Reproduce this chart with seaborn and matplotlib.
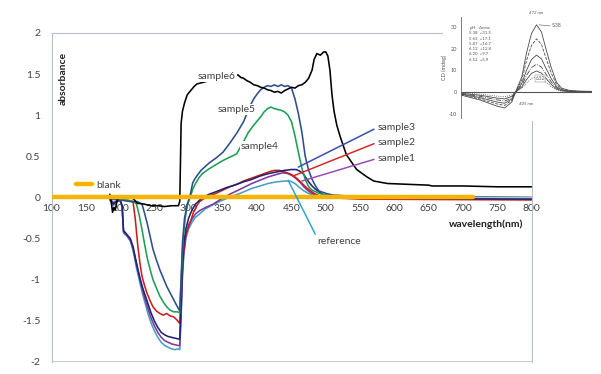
import numpy as np
import pandas as pd
import matplotlib
matplotlib.use("Agg")
import matplotlib.pyplot as plt
from matplotlib.patches import Rectangle
import seaborn as sns

# ---------------- data ----------------
wl_s6 = [185, 187, 189, 191, 193, 196, 200, 215, 220, 225, 235, 245, 255, 265, 275, 285, 287, 288, 289,
         291, 294, 298, 303, 308, 312, 330, 350, 372, 376, 380, 385, 390, 395, 400, 405, 410, 415, 420,
         425, 430, 435, 440, 445, 450, 455, 460, 465, 470, 475, 480, 483, 487, 492, 497, 500, 503, 506,
         509, 512, 516, 521, 530, 545, 560, 570, 590, 620, 650, 655, 700, 750, 800]
ab_s6 = [0.04, -0.05, -0.18, -0.12, -0.15, -0.02, 0.0, 0.0, -0.02, -0.07, -0.08, -0.10, -0.10, -0.11,
         -0.10, -0.10, -0.05, 0.40, 0.90, 1.05, 1.15, 1.25, 1.30, 1.35, 1.38, 1.42, 1.46, 1.49, 1.46,
         1.45, 1.42, 1.40, 1.37, 1.36, 1.34, 1.33, 1.31, 1.30, 1.28, 1.29, 1.27, 1.30, 1.32, 1.34, 1.33,
         1.36, 1.37, 1.40, 1.45, 1.55, 1.68, 1.75, 1.73, 1.77, 1.77, 1.72, 1.55, 1.25, 1.05, 0.88, 0.74,
         0.52, 0.34, 0.25, 0.20, 0.17, 0.16, 0.15, 0.14, 0.14, 0.13, 0.13]

wl_s5 = [185, 200, 215, 225, 232, 236, 240, 244, 248, 253, 258, 263, 268, 273, 278, 283, 287, 289, 291,
         294, 298, 302, 306, 310, 318, 330, 340, 350, 360, 370, 380, 390, 395, 400, 405, 410, 415, 420,
         425, 430, 435, 440, 445, 450, 455, 460, 465, 470, 475, 480, 485, 490, 500, 510, 530, 600, 800]
ab_s5 = [-0.02, -0.03, -0.05, -0.05, -0.08, -0.20, -0.33, -0.48, -0.63, -0.76, -0.88, -0.98, -1.08,
         -1.16, -1.24, -1.32, -1.38, -1.00, -0.55, -0.25, -0.08, 0.02, 0.18, 0.24, 0.33, 0.42, 0.48,
         0.55, 0.66, 0.78, 0.92, 1.12, 1.20, 1.26, 1.31, 1.34, 1.36, 1.35, 1.37, 1.35, 1.37, 1.35, 1.36,
         1.33, 1.20, 1.02, 0.80, 0.50, 0.33, 0.22, 0.14, 0.08, 0.05, 0.03, 0.02, 0.01, 0.00]

wl_s4 = [185, 200, 215, 220, 224, 228, 232, 236, 240, 244, 248, 253, 258, 263, 268, 273, 278, 283, 287,
         289, 292, 295, 298, 302, 306, 310, 315, 320, 330, 340, 350, 360, 370, 380, 387, 395, 400, 405,
         410, 415, 420, 425, 430, 435, 440, 445, 450, 455, 460, 465, 470, 475, 480, 490, 500, 520, 800]
ab_s4 = [-0.01, -0.02, -0.04, -0.05, -0.08, -0.22, -0.39, -0.58, -0.75, -0.88, -1.00, -1.10, -1.20,
         -1.27, -1.33, -1.37, -1.39, -1.39, -1.40, -1.00, -0.50, -0.25, -0.10, 0.00, 0.10, 0.17, 0.24,
         0.29, 0.35, 0.40, 0.45, 0.49, 0.53, 0.68, 0.79, 0.88, 0.93, 0.98, 1.04, 1.08, 1.10, 1.08, 1.07,
         1.06, 1.04, 1.00, 0.92, 0.75, 0.55, 0.36, 0.22, 0.13, 0.09, 0.05, 0.03, 0.01, 0.00]

wl_s3 = [185, 190, 195, 200, 203, 205, 210, 215, 219, 224, 229, 233, 237, 241, 245, 250, 255, 260, 265,
         270, 275, 280, 285, 287, 289, 291, 293, 296, 300, 305, 310, 315, 320, 330, 343, 355, 367, 380,
         392, 404, 416, 428, 440, 450, 457, 462, 467, 471, 475, 480, 485, 490, 495, 500, 510, 600, 800]
ab_s3 = [-0.02, -0.08, -0.05, -0.03, -0.10, -0.40, -0.45, -0.50, -0.60, -0.80, -0.98, -1.10, -1.20,
         -1.30, -1.40, -1.50, -1.58, -1.64, -1.67, -1.69, -1.70, -1.71, -1.72, -1.72, -1.30, -0.80,
         -0.55, -0.38, -0.25, -0.15, -0.08, -0.04, 0.00, 0.04, 0.08, 0.12, 0.15, 0.19, 0.22, 0.26, 0.29,
         0.31, 0.33, 0.34, 0.34, 0.32, 0.29, 0.24, 0.19, 0.14, 0.10, 0.07, 0.04, 0.02, 0.00, -0.01, -0.02]

wl_s2 = [185, 200, 215, 219, 222, 226, 229, 232, 236, 240, 244, 248, 253, 258, 263, 268, 273, 278, 283,
         287, 289, 292, 296, 302, 307, 312, 316, 321, 330, 340, 350, 360, 370, 380, 390, 400, 410, 420,
         426, 432, 440, 447, 452, 458, 463, 468, 473, 478, 483, 490, 500, 550, 800]
ab_s2 = [-0.01, -0.02, -0.04, -0.06, -0.25, -0.60, -0.80, -0.96, -1.08, -1.18, -1.26, -1.33, -1.38,
         -1.41, -1.43, -1.41, -1.44, -1.45, -1.49, -1.53, -1.20, -0.72, -0.45, -0.31, -0.18, -0.10,
         -0.05, -0.02, 0.02, 0.05, 0.09, 0.13, 0.16, 0.20, 0.23, 0.26, 0.29, 0.32, 0.33, 0.33, 0.31,
         0.29, 0.27, 0.23, 0.19, 0.15, 0.11, 0.08, 0.05, 0.02, 0.00, -0.02, -0.03]

wl_s1 = [185, 190, 200, 203, 205, 210, 215, 219, 224, 229, 233, 237, 241, 245, 250, 255, 260, 265, 270,
         275, 280, 285, 287, 289, 291, 293, 296, 300, 305, 310, 316, 325, 336, 345, 352, 360, 370, 380,
         392, 404, 416, 428, 437, 445, 452, 458, 463, 468, 473, 478, 485, 495, 510, 800]
ab_s1 = [-0.02, -0.06, -0.03, -0.10, -0.42, -0.46, -0.52, -0.62, -0.82, -1.00, -1.14, -1.25, -1.36,
         -1.46, -1.56, -1.64, -1.70, -1.74, -1.76, -1.78, -1.79, -1.80, -1.80, -1.40, -0.90, -0.65,
         -0.45, -0.33, -0.26, -0.20, -0.16, -0.12, -0.08, -0.03, 0.00, 0.04, 0.08, 0.12, 0.17, 0.21,
         0.25, 0.28, 0.30, 0.29, 0.26, 0.22, 0.18, 0.13, 0.09, 0.06, 0.03, 0.01, 0.00, -0.01]

wl_ref = [185, 190, 195, 200, 203, 205, 210, 215, 219, 224, 229, 233, 237, 241, 245, 250, 255, 260, 265,
          270, 275, 280, 285, 287, 289, 291, 293, 296, 300, 305, 310, 316, 324, 335, 345, 353, 362, 375,
          392, 404, 416, 428, 440, 448, 455, 462, 468, 475, 482, 490, 500, 800]
ab_ref = [-0.03, -0.10, -0.05, -0.04, -0.12, -0.43, -0.47, -0.53, -0.65, -0.86, -1.04, -1.18, -1.30,
          -1.42, -1.52, -1.62, -1.70, -1.76, -1.80, -1.82, -1.84, -1.85, -1.84, -1.85, -1.45, -0.95,
          -0.70, -0.50, -0.38, -0.30, -0.24, -0.20, -0.14, -0.09, -0.05, -0.02, 0.01, 0.05, 0.11, 0.14,
          0.17, 0.19, 0.20, 0.20, 0.17, 0.12, 0.08, 0.05, 0.03, 0.01, 0.00, -0.01]

wl_blank = [100, 715]
ab_blank = [0.0, 0.0]

series_names = ["sample6", "sample5", "sample4", "sample3", "sample2", "sample1", "reference"]
series_wl = [wl_s6, wl_s5, wl_s4, wl_s3, wl_s2, wl_s1, wl_ref]
series_ab = [ab_s6, ab_s5, ab_s4, ab_s3, ab_s2, ab_s1, ab_ref]

x_ticks = [100, 150, 200, 250, 300, 350, 400, 450, 500, 550, 600, 650, 700, 750, 800]
y_ticks = [-2, -1.5, -1, -0.5, 0, 0.5, 1, 1.5, 2]
y_ticklabels = ["-2", "-1.5", "-1", "-0.5", "0", "0.5", "1", "1.5", "2"]

# inset (CD spectra image) data
inset_wl = [230, 291, 345, 370, 393, 405, 425, 440, 456, 472, 488, 504, 520, 536, 552, 578, 610, 648]
cd_538 = [-1.4, -3.7, -6.5, -7.4, -4.6, 0, 7.0, 18.0, 27.0, 31.0, 27.7, 19.0, 11.0, 4.6, 1.8, 0.7, 0.4, 0.3]
cd_563 = [-1.2, -3.2, -5.5, -6.2, -3.8, 0, 5.5, 14.5, 21.5, 24.5, 22.0, 15.0, 8.5, 3.6, 1.4, 0.5, 0.3, 0.2]
cd_587 = [-1.0, -2.6, -4.6, -5.2, -3.2, 0, 4.0, 10.0, 15.0, 17.0, 15.3, 10.5, 6.0, 2.5, 1.0, 0.4, 0.2, 0.2]
cd_612 = [-0.8, -2.0, -3.6, -4.2, -2.6, 0, 3.0, 7.6, 11.3, 12.8, 11.5, 7.9, 4.5, 1.9, 0.8, 0.3, 0.2, 0.1]
cd_620 = [-0.6, -1.5, -2.8, -3.2, -2.0, 0, 2.3, 5.7, 8.6, 9.7, 8.7, 6.0, 3.4, 1.4, 0.6, 0.2, 0.1, 0.1]
cd_652 = [-0.4, -1.0, -1.9, -2.2, -1.4, 0, 1.7, 4.1, 6.2, 7.0, 6.3, 4.3, 2.4, 1.0, 0.4, 0.2, 0.1, 0.1]
cd_curves = [cd_538, cd_563, cd_587, cd_612, cd_620, cd_652]
cd_ticks = [-10, 0, 10, 20, 30]
cd_table = ["pH   \u0394\u03b5$_{max}$", "5.38  +31.5", "5.63  +17.1", "5.87  +16.7",
            "6.12  +12.8", "6.20  +9.7", "6.52  +5.9"]

# ---------------- styling ----------------
sns.set_style("white")
plt.rcParams["font.family"] = ["Lato", "DejaVu Sans"]
plt.rcParams["axes.unicode_minus"] = False

colors = {"sample6": "#000000", "sample5": "#2C4F8C", "sample4": "#1E9E55", "sample3": "#1D2473",
          "sample2": "#C8201F", "sample1": "#7D3A9E", "reference": "#4A9EC4"}
blank_color = "#F4B400"
text_color = "#404040"
frame_color = "#B4C0D0"

fig = plt.figure(figsize=(6.01, 3.74), dpi=100)
ax = fig.add_axes([0.0857, 0.0321, 0.7987, 0.8797])

rows = []
for name, w, a in zip(series_names, series_wl, series_ab):
    rows.append(pd.DataFrame({"wavelength": w, "absorbance": a, "series": name}))
df = pd.concat(rows, ignore_index=True)

sns.lineplot(data=df, x="wavelength", y="absorbance", hue="series", hue_order=series_names[::-1],
             palette=colors, estimator=None, sort=False, legend=False, lw=1.15, ax=ax, zorder=2)

df_blank = pd.DataFrame({"wavelength": wl_blank, "absorbance": ab_blank})
sns.lineplot(data=df_blank, x="wavelength", y="absorbance", color=blank_color, lw=3.2,
             ax=ax, zorder=3, label="blank")

ax.set_xlim(100, 800)
ax.set_ylim(-2, 2)
ax.set_xticks(x_ticks)
ax.set_xticklabels([str(t) for t in x_ticks])
ax.set_yticks(y_ticks)
ax.set_yticklabels(y_ticklabels)
ax.tick_params(axis="both", length=0, labelsize=7.5, labelcolor=text_color)
ax.tick_params(axis="x", pad=5)
ax.tick_params(axis="y", pad=8)
ax.set_xlabel("")
ax.set_ylabel("")

for s in ["left", "top", "right", "bottom"]:
    ax.spines[s].set_color(frame_color)
    ax.spines[s].set_linewidth(0.8)
ax.spines["bottom"].set_position(("data", 0))
ax.axhline(-2, color=frame_color, lw=1.2, zorder=1)

ax.text(0.024, 0.863, "absorbance", rotation=90, transform=ax.transAxes, ha="center", va="center",
        fontsize=7.5, fontweight="bold", color="#202020")
ax.text(0.982, 0.4195, "wavelength(nm)", transform=ax.transAxes, ha="right", va="center",
        fontsize=7.5, fontweight="bold", color="#202020")

leg = ax.legend(loc="center left", bbox_to_anchor=(0.05, 0.538), frameon=False, fontsize=7.5,
                handlelength=1.6, handletextpad=0.4, borderpad=0, borderaxespad=0)
for t in leg.get_texts():
    t.set_color(text_color)

# data labels with white background (cut the lines as in the original)
box = dict(facecolor="white", edgecolor="none", pad=0.6)
ax.text(341, 1.475, "sample6", ha="center", va="center", fontsize=7.5, color=text_color, bbox=box, zorder=6)
ax.text(370, 1.07, "sample5", ha="center", va="center", fontsize=7.5, color=text_color, bbox=box, zorder=6)
ax.text(404, 0.62, "sample4", ha="center", va="center", fontsize=7.5, color=text_color, bbox=box, zorder=6)

leaders = [("sample3", (460, 0.37), (575, 0.85), "#3A4DB5"),
           ("sample2", (452, 0.26), (575, 0.67), "#D42A2A"),
           ("sample1", (465, 0.20), (575, 0.475), "#9A4DB8")]
for lab, xy, xyt, c in leaders:
    ax.annotate(lab, xy=xy, xytext=xyt, ha="left", va="center", fontsize=7.5, color=text_color,
                arrowprops=dict(arrowstyle="-", color=c, lw=1.1, shrinkA=0, shrinkB=0, relpos=(0, 0.5)),
                zorder=6)
ax.annotate("reference", xy=(445, 0.21), xytext=(487, -0.54), ha="left", va="center", fontsize=7.5,
            color=text_color,
            arrowprops=dict(arrowstyle="-", color="#2AA6DA", lw=1.1, shrinkA=0, shrinkB=0, relpos=(0, 1.0)),
            zorder=6)

# ---------------- inset (CD spectra picture) ----------------
W, H = 601.0, 374.0
fig.patches.append(Rectangle((443 / W, 1 - 121 / H), (W - 443) / W, 121 / H, transform=fig.transFigure,
                             facecolor="white", edgecolor="none", zorder=1))
axi = fig.add_axes([461 / W, 1 - 118 / H, 131 / W, 101 / H])
axi.set_zorder(2)
axi.set_facecolor("white")
styles = ["-", "--", "-", "-.", "-", ":"]
for cvals, ls in zip(cd_curves, styles):
    sns.lineplot(x=inset_wl, y=cvals, ax=axi, color="#4a4a4a", lw=0.6, ls=ls, estimator=None, sort=False)
axi.axhline(0, color="#555555", lw=0.8)
axi.set_xlim(230, 650)
axi.set_ylim(-12, 34.6)
axi.set_yticks(cd_ticks)
axi.set_yticklabels([str(t) for t in cd_ticks])
axi.set_xticks([])
axi.tick_params(axis="y", length=2, width=0.5, labelsize=4, pad=1, colors="#555555")
for s in ["top", "right", "bottom"]:
    axi.spines[s].set_visible(False)
axi.spines["left"].set_color("#666666")
axi.spines["left"].set_linewidth(0.6)
axi.set_ylabel("CD (mdeg)", fontsize=4, color="#555555", labelpad=1)
for i, line in enumerate(cd_table):
    axi.text(0.06, 0.89 - i * 0.052, line, transform=axi.transAxes, fontsize=3.2, color="#555555",
             ha="left", va="center")
axi.text(472, 35.5, "472 nm", fontsize=3.2, color="#555555", ha="center", va="bottom", style="italic")
axi.text(520, 30.5, "5.38", fontsize=3.5, color="#555555", ha="left", va="center")
axi.plot([480, 516], [31, 30.5], color="#555555", lw=0.4)
axi.text(483, 6.3, "6.52", fontsize=3.3, color="#555555", ha="center", va="center",
         bbox=dict(facecolor="white", edgecolor="#777777", lw=0.3, pad=0.5))
axi.text(415, -5.5, "405 nm", fontsize=3.2, color="#555555", ha="left", va="center", style="italic")

fig.savefig("out.png", dpi=100)
